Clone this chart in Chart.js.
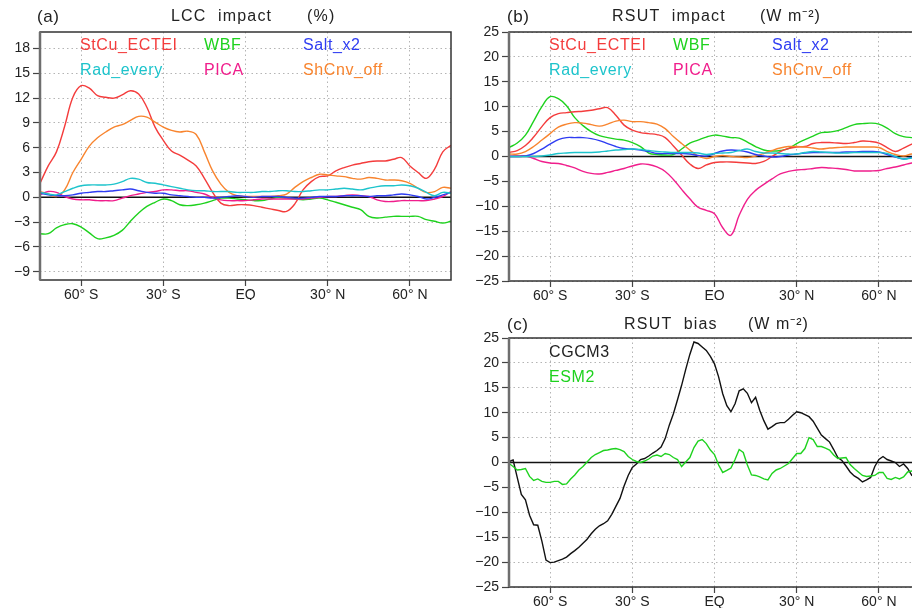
<!DOCTYPE html>
<html>
<head>
<meta charset="utf-8">
<title>LCC / RSUT impact and bias</title>
<script src="https://cdn.jsdelivr.net/npm/chart.js@4.4.0/dist/chart.umd.min.js"></script>
<style>
  html, body { margin: 0; padding: 0; background: #fff; width: 912px; height: 608px; overflow: hidden; position: relative; }
  canvas { position: absolute; }
  #lccChart  { left: 0;     top: 0; }
  #rsutChart { left: 455px; top: 0; }
  #biasChart { left: 455px; top: 300px; }
</style>
</head>
<body>
<canvas id="lccChart" width="460" height="300"></canvas>
<canvas id="rsutChart" width="475" height="300"></canvas>
<canvas id="biasChart" width="475" height="308"></canvas>
<script>
'use strict';

// ============================================================
// DATA
// ============================================================
const lat3 = [-75,-72,-69,-66,-63,-60,-57,-54,-51,-48,-45,-42,-39,-36,-33,-30,-27,-24,-21,-18,-15,-12,-9,-6,-3,0,3,6,9,12,15,18,21,24,27,30,33,36,39,42,45,48,51,54,57,60,63,66,69,72,75];
const lat15 = [-75,-73.5,-72,-70.5,-69,-67.5,-66,-64.5,-63,-61.5,-60,-58.5,-57,-55.5,-54,-52.5,-51,-49.5,-48,-46.5,-45,-43.5,-42,-40.5,-39,-37.5,-36,-34.5,-33,-31.5,-30,-28.5,-27,-25.5,-24,-22.5,-21,-19.5,-18,-16.5,-15,-13.5,-12,-10.5,-9,-7.5,-6,-4.5,-3,-1.5,0,1.5,3,4.5,6,7.5,9,10.5,12,13.5,15,16.5,18,19.5,21,22.5,24,25.5,27,28.5,30,31.5,33,34.5,36,37.5,39,40.5,42,43.5,45,46.5,48,49.5,51,52.5,54,55.5,57,58.5,60,61.5,63,64.5,66,67.5,69,70.5,72,73.5,75];

const latTicks      = [-60, -30, 0, 30, 60];
const latTickLabels = ['60° S', '30° S', 'EQ', '30° N', '60° N'];
const lccTicks      = [-9, -6, -3, 0, 3, 6, 9, 12, 15, 18];

// (a) LCC impact (%)
const lccStCu  = [1.7,3.8,5.5,8.6,12.1,13.5,13.2,12.3,12.1,12.0,12.4,12.9,12.5,10.9,8.5,6.9,5.6,5.1,4.5,3.8,2.3,0.6,-0.7,-1.0,-0.9,-0.9,-1.0,-1.2,-1.4,-1.6,-1.7,-0.8,0.9,1.9,2.5,2.6,3.2,3.6,3.9,4.1,4.3,4.4,4.4,4.6,4.8,3.8,3.0,2.3,3.4,5.5,6.3];
const lccWBF   = [-4.4,-4.4,-3.7,-3.3,-3.2,-3.6,-4.3,-5.0,-4.9,-4.6,-4.0,-2.9,-1.9,-1.1,-0.6,-0.2,-0.4,-0.9,-1.0,-0.9,-0.7,-0.4,-0.1,-0.1,-0.2,-0.3,-0.4,-0.4,-0.2,0.0,-0.1,-0.2,-0.3,-0.2,-0.1,-0.3,-0.6,-0.9,-1.2,-1.5,-2.3,-2.5,-2.4,-2.3,-2.3,-2.3,-2.3,-2.7,-2.9,-3.1,-2.9];
const lccSalt  = [0.5,0.3,0.2,0.2,0.3,0.5,0.6,0.7,0.7,0.8,0.9,1.0,0.8,0.6,0.5,0.5,0.3,0.2,0.1,0.0,0.0,-0.1,0.0,0.1,0.2,0.1,0.0,0.1,0.1,0.1,0.0,-0.1,-0.1,0.0,0.1,0.1,0.1,0.2,0.2,0.2,0.1,0.2,0.2,0.3,0.4,0.3,0.1,-0.2,0.0,0.3,0.6];
const lccRad   = [0.6,0.4,0.3,0.7,1.1,1.4,1.5,1.5,1.5,1.6,1.9,2.3,2.2,1.8,1.7,1.5,1.3,1.1,0.9,0.8,0.8,0.7,0.7,0.7,0.6,0.6,0.6,0.7,0.7,0.8,0.8,0.7,0.7,0.8,0.9,0.9,1.0,1.1,1.0,0.9,1.1,1.3,1.4,1.4,1.5,1.4,1.1,0.6,0.2,0.6,0.5];
const lccPICA  = [0.3,0.7,0.6,0.1,-0.2,-0.3,-0.3,-0.4,-0.4,-0.4,-0.1,0.2,0.4,0.6,0.7,0.9,0.9,0.8,0.8,0.6,0.4,0.0,-0.3,-0.4,-0.4,-0.4,-0.3,-0.2,-0.2,-0.2,-0.2,-0.2,-0.2,-0.1,0.0,0.1,0.1,0.2,0.3,0.2,0.1,-0.3,-0.5,-0.5,-0.4,-0.4,-0.4,-0.4,-0.2,0.1,0.7];
const lccShCnv = [0.7,0.4,0.1,0.9,3.0,4.6,6.2,7.2,7.9,8.5,8.8,9.3,9.8,9.7,9.1,8.5,8.1,7.9,8.0,7.6,5.5,3.2,1.6,0.6,0.2,0.1,0.1,0.1,0.1,0.2,0.4,1.2,1.9,2.4,2.8,2.7,2.6,2.5,2.3,2.2,2.4,2.3,2.1,2.1,2.0,1.7,1.1,0.6,0.7,1.2,1.1];

// (b) RSUT impact (W m-2)
const rsutStCu  = [0.8,1.2,2.2,3.9,6.0,7.8,8.6,8.8,9.0,9.1,9.3,9.6,9.8,8.3,6.3,5.3,4.8,4.6,4.4,3.8,2.1,0.3,-1.5,-2.4,-1.7,-1.2,-1.1,-1.1,-1.2,-1.3,-1.4,-1.0,0.0,1.0,1.6,1.9,2.0,2.6,2.8,2.8,2.7,2.6,2.8,3.1,3.0,2.7,1.8,1.0,1.7,2.5,3.0];
const rsutWBF   = [1.8,2.7,4.3,7.1,10.0,12.0,11.6,10.2,7.8,6.2,5.0,4.2,3.8,3.5,3.3,2.8,2.0,0.7,0.4,0.3,0.4,1.5,2.7,3.3,3.9,4.3,4.1,3.8,3.7,2.9,2.0,1.3,1.1,1.2,1.6,2.6,3.4,4.1,4.8,4.9,5.2,5.8,6.4,6.6,6.7,6.5,5.7,4.6,4.0,3.8,3.7];
const rsutSalt  = [0.0,0.0,0.1,0.6,1.5,2.5,3.4,3.8,3.8,3.8,3.6,3.2,2.6,2.0,1.6,1.5,1.3,1.0,0.6,0.6,0.6,0.6,0.5,0.2,0.1,0.6,1.1,1.3,1.2,0.9,0.4,0.1,-0.1,0.0,0.3,0.5,0.7,0.8,0.8,0.8,0.8,0.9,0.9,1.0,1.0,0.9,0.4,-0.1,-0.5,-0.2,-0.1];
const rsutRad   = [0.0,0.0,0.0,0.0,0.1,0.3,0.6,0.7,0.8,0.8,0.8,0.9,1.1,1.3,1.4,1.5,1.4,1.2,1.0,0.9,0.8,0.8,0.8,0.7,0.4,0.6,0.7,0.8,1.2,1.5,1.0,0.7,0.7,0.6,0.5,0.5,0.8,1.0,0.9,0.8,0.7,0.7,0.8,0.8,0.8,0.8,0.6,0.0,-0.5,-0.3,-0.2];
const rsutPICA  = [0.0,0.1,0.1,-0.4,-1.0,-1.3,-1.4,-1.8,-2.3,-3.0,-3.4,-3.5,-3.2,-2.8,-2.4,-1.9,-1.5,-1.6,-2.1,-3.0,-4.6,-6.6,-8.5,-10.2,-10.8,-11.5,-14.3,-15.8,-11.8,-8.6,-6.8,-5.6,-4.5,-3.5,-3.0,-2.7,-2.6,-2.4,-2.2,-2.3,-2.4,-2.6,-2.9,-2.9,-2.9,-2.8,-2.4,-2.1,-1.7,-1.3,-1.1];
const rsutShCnv = [0.5,0.5,1.0,2.0,3.3,4.6,5.9,6.5,6.8,6.7,6.4,6.1,6.5,7.1,7.3,7.0,7.0,6.8,6.5,5.6,4.0,2.6,1.3,0.1,-0.4,0.0,0.2,0.0,-0.1,-0.2,0.1,0.6,1.2,1.7,2.0,2.0,1.9,1.7,1.5,1.7,1.8,1.9,1.9,1.9,1.9,1.8,1.0,0.4,0.1,0.5,0.6];

// (c) RSUT bias (W m-2)
const biasCGCM3 = [0.2,0.5,-3.0,-6.4,-7.5,-10.6,-12.5,-12.6,-15.8,-19.6,
  -20.1,-20.0,-19.7,-19.4,-19.0,-18.3,-17.7,-17.0,-16.2,-15.4,
  -14.3,-13.4,-12.7,-12.3,-11.7,-10.4,-8.8,-7.2,-4.7,-2.6,
  -1.0,-0.3,0.6,0.8,1.3,1.9,2.4,3.1,4.8,7.5,
  9.8,12.6,15.5,18.7,21.7,24.2,23.9,23.2,22.5,21.3,
  19.8,17.2,13.8,11.4,10.2,11.8,14.4,14.8,13.9,12.0,
  13.1,10.5,8.4,6.7,7.2,7.8,8.0,8.0,8.7,9.5,
  10.2,10.0,9.6,9.2,8.3,6.9,5.5,4.8,4.1,2.6,
  1.0,0.4,-0.7,-1.9,-2.7,-3.2,-3.9,-3.5,-3.0,-0.8,
  0.6,1.2,0.6,0.3,0.0,-0.8,-0.3,-1.2,-2.6,-2.8,
  -2.8];
const biasESM2 = [-0.2,-0.8,-1.5,-1.4,-1.2,-2.8,-3.6,-3.3,-3.8,-4.0,
  -4.0,-3.8,-3.8,-4.4,-4.3,-3.3,-2.5,-1.5,-0.8,0.1,
  1.0,1.6,2.0,2.4,2.5,2.7,2.8,2.6,2.2,1.2,
  0.6,0.2,0.0,0.3,0.7,1.3,1.5,1.2,1.8,1.6,
  1.0,0.6,-0.8,0.1,1.0,3.0,4.3,4.6,3.8,2.5,
  1.6,-0.5,-2.0,-1.6,-1.1,0.6,2.6,2.0,-0.5,-2.5,
  -2.6,-2.9,-3.3,-3.5,-2.2,-1.5,-1.2,-0.7,-0.2,0.8,
  1.8,1.8,2.8,5.0,4.6,3.2,3.2,2.9,2.5,1.5,
  0.8,0.9,1.0,-0.4,-1.2,-1.9,-2.6,-2.8,-2.7,-2.6,
  -2.0,-2.0,-3.2,-3.4,-3.0,-3.3,-2.9,-1.9,-1.7,-1.6,
  -1.5];

// ============================================================
// STYLE
// ============================================================
const COL = {
  red: '#f43c3c', green: '#1ed21e', blue: '#2e3cf2',
  cyan: '#1ec4cc', pink: '#f01e8c', orange: '#f8842e', black: '#111'
};
const FONT = '"Liberation Sans", Arial, sans-serif';

// ============================================================
// PLUGINS
// ============================================================
const panelText = {
  id: 'panelText',
  afterDraw(chart, args, opts) {
    const ctx = chart.ctx;
    ctx.save();
    ctx.textBaseline = 'middle';
    ctx.textAlign = 'left';
    (opts.items || []).forEach(it => {
      ctx.font = `${it.size || 16}px ${FONT}`;
      ctx.fillStyle = it.color || '#222';
      ctx.letterSpacing = it.spacing || '0.6px';
      ctx.fillText(it.text, it.x, it.y);
    });
    ctx.restore();
  }
};

const frame = {
  id: 'frame',
  beforeDatasetsDraw(chart) {
    const { ctx, chartArea: a, scales: { y } } = chart;
    const y0 = y.getPixelForValue(0);
    ctx.save();
    ctx.strokeStyle = '#111';
    ctx.lineWidth = 1.5;
    ctx.beginPath(); ctx.moveTo(a.left, y0); ctx.lineTo(a.right, y0); ctx.stroke();
    ctx.restore();
  },
  afterDatasetsDraw(chart) {
    const { ctx, chartArea: a } = chart;
    ctx.save();
    ctx.strokeStyle = '#333';
    ctx.lineWidth = 1.5;
    ctx.strokeRect(a.left, a.top, a.right - a.left, a.bottom - a.top);
    ctx.strokeStyle = '#6e6e6e';
    ctx.lineWidth = 2.5;
    ctx.beginPath(); ctx.moveTo(a.left, a.top); ctx.lineTo(a.left, a.bottom); ctx.stroke();
    ctx.restore();
  }
};

// ============================================================
// HELPERS
// ============================================================
function line(lats, vals, color, tension) {
  return {
    data: lats.map((x, i) => ({ x, y: vals[i] })),
    borderColor: color, borderWidth: 1.4,
    pointRadius: 0, fill: false, tension: tension
  };
}

const minus = v => String(v).replace('-', '\u2212');

function makePanel(id, cfg) {
  return new Chart(document.getElementById(id), {
    type: 'line',
    data: { datasets: cfg.datasets },
    options: {
      responsive: false, animation: false, devicePixelRatio: 1,
      layout: { padding: cfg.padding },
      plugins: { legend: { display: false }, tooltip: { enabled: false }, panelText: { items: cfg.texts } },
      scales: {
        x: {
          type: 'linear', min: -75, max: 75,
          afterBuildTicks: s => { s.ticks = latTicks.map(v => ({ value: v })); },
          afterFit: s => { s.height = cfg.xHeight; },
          ticks: {
            autoSkip: false, maxRotation: 0, padding: 1, color: '#222',
            font: { family: FONT, size: 14 },
            callback: v => latTickLabels[latTicks.indexOf(v)]
          },
          grid: { color: '#b4b4b4', lineWidth: 1, tickLength: 6, tickColor: '#444', tickWidth: 1.2 },
          border: { display: false, dash: [1.5, 3] }
        },
        y: {
          type: 'linear', min: cfg.yMin, max: cfg.yMax,
          afterBuildTicks: s => { s.ticks = cfg.yTicks.map(v => ({ value: v })); },
          afterFit: s => { s.width = cfg.yWidth; },
          ticks: {
            autoSkip: false, padding: 3, color: '#222',
            font: { family: FONT, size: 14 },
            callback: v => minus(v)
          },
          grid: { color: '#b4b4b4', lineWidth: 1, tickLength: 7, tickColor: '#444', tickWidth: 1.2 },
          border: { display: false, dash: [1.5, 3] }
        }
      }
    },
    plugins: [frame, panelText]
  });
}

// ============================================================
// PANELS
// ============================================================
const rsutTicks = [-25, -20, -15, -10, -5, 0, 5, 10, 15, 20, 25];

makePanel('lccChart', {
  yMin: -10, yMax: 20, yTicks: lccTicks, yWidth: 40, xHeight: 20,
  padding: { top: 32, right: 9, bottom: 0, left: 0 },
  datasets: [
    line(lat3, lccRad, COL.cyan, 0.4),
    line(lat3, lccSalt, COL.blue, 0.4),
    line(lat3, lccPICA, COL.pink, 0.4),
    line(lat3, lccWBF, COL.green, 0.4),
    line(lat3, lccShCnv, COL.orange, 0.4),
    line(lat3, lccStCu, COL.red, 0.4)
  ],
  texts: [
    { text: '(a)', x: 37, y: 17, size: 17, color: '#222' },
    { text: 'LCC  impact', x: 171, y: 17, color: '#222', spacing: '1.2px' },
    { text: '(%)', x: 307, y: 17, color: '#222', spacing: '1.2px' },
    { text: 'StCu_ECTEI', x: 80, y: 46, color: COL.red },
    { text: 'WBF', x: 204, y: 46, color: COL.green },
    { text: 'Salt_x2', x: 303, y: 46, color: COL.blue },
    { text: 'Rad_every', x: 80, y: 71, color: COL.cyan },
    { text: 'PICA', x: 204, y: 71, color: COL.pink },
    { text: 'ShCnv_off', x: 303, y: 71, color: COL.orange }
  ]
});

makePanel('rsutChart', {
  yMin: -25, yMax: 25, yTicks: rsutTicks, yWidth: 54, xHeight: 19,
  padding: { top: 32, right: 10, bottom: 0, left: 0 },
  datasets: [
    line(lat3, rsutRad, COL.cyan, 0.4),
    line(lat3, rsutSalt, COL.blue, 0.4),
    line(lat3, rsutShCnv, COL.orange, 0.4),
    line(lat3, rsutStCu, COL.red, 0.4),
    line(lat3, rsutWBF, COL.green, 0.4),
    line(lat3, rsutPICA, COL.pink, 0.4)
  ],
  texts: [
    { text: '(b)', x: 52, y: 17, size: 17, color: '#222' },
    { text: 'RSUT  impact', x: 157, y: 17, color: '#222', spacing: '1.2px' },
    { text: '(W m\u207B\u00B2)', x: 305, y: 17, color: '#222', spacing: '1px' },
    { text: 'StCu_ECTEI', x: 94, y: 46, color: COL.red },
    { text: 'WBF', x: 218, y: 46, color: COL.green },
    { text: 'Salt_x2', x: 317, y: 46, color: COL.blue },
    { text: 'Rad_every', x: 94, y: 71, color: COL.cyan },
    { text: 'PICA', x: 218, y: 71, color: COL.pink },
    { text: 'ShCnv_off', x: 317, y: 71, color: COL.orange }
  ]
});

makePanel('biasChart', {
  yMin: -25, yMax: 25, yTicks: rsutTicks, yWidth: 54, xHeight: 21,
  padding: { top: 38, right: 10, bottom: 0, left: 0 },
  datasets: [
    line(lat15, biasESM2, COL.green, 0),
    line(lat15, biasCGCM3, COL.black, 0)
  ],
  texts: [
    { text: '(c)', x: 52, y: 25, size: 17, color: '#222' },
    { text: 'RSUT  bias', x: 169, y: 25, color: '#222', spacing: '1.2px' },
    { text: '(W m\u207B\u00B2)', x: 293, y: 25, color: '#222', spacing: '1px' },
    { text: 'CGCM3', x: 94, y: 53, color: '#222' },
    { text: 'ESM2', x: 94, y: 78, color: COL.green }
  ]
});
</script>
</body>
</html>
